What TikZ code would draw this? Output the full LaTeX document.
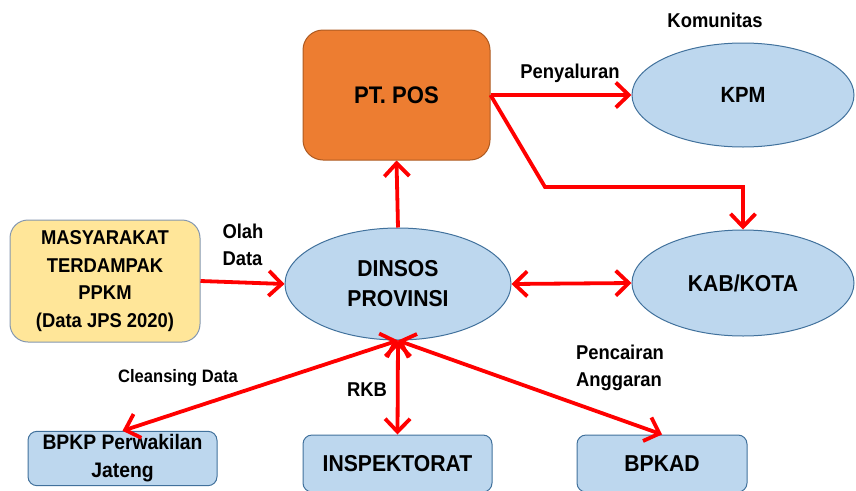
\documentclass[tikz,border=0pt]{standalone}
\usepackage{fontspec}
\setmainfont{Liberation Sans}[FakeStretch=0.92]
\usetikzlibrary{arrows.meta,shapes.geometric}
\definecolor{posorange}{HTML}{ED7D31}
\definecolor{posedge}{HTML}{AE5A21}
\definecolor{lblue}{HTML}{BDD7EE}
\definecolor{bedge}{HTML}{41719C}
\definecolor{lyellow}{HTML}{FFE699}
\definecolor{yedge}{HTML}{8497B0}
\definecolor{arred}{HTML}{FF0000}
\tikzset{
  bigtxt/.style={font=\fontsize{23}{30}\selectfont\bfseries, align=center, text=black},
  lbl/.style={font=\fontsize{20}{26.5}\selectfont\bfseries, text=black},
  orangebox/.style={draw=posedge, fill=posorange, rounded corners=20pt, line width=1pt, bigtxt},
  ellnode/.style={ellipse, draw=bedge, fill=lblue, line width=1pt, inner sep=0pt, bigtxt},
  yellowbox/.style={draw=yedge, fill=lyellow, rounded corners=18pt, line width=1pt, bigtxt, font=\fontsize{20}{27.7}\selectfont\bfseries},
  bluebox/.style={draw=bedge, fill=lblue, rounded corners=9pt, line width=1pt, bigtxt},
  barb/.tip={Straight Barb[length=13pt,width=25pt]},
  rarr/.style={draw=arred, line width=3.8pt, -barb},
  rarrtwo/.style={draw=arred, line width=3.8pt, barb-barb}
}
\begin{document}
\begin{tikzpicture}[x=1pt,y=-1pt]
\useasboundingbox (0,0) rectangle (856,490);
\node[orangebox, minimum width=187pt, minimum height=130pt, font=\fontsize{24}{30}\selectfont\bfseries] (pos) at (396.5,95) {PT. POS};
\node[ellnode, minimum width=222pt, minimum height=104pt, font=\fontsize{22}{30}\selectfont\bfseries] (kpm) at (743,95) {KPM};
\node[ellnode, minimum width=222pt, minimum height=106pt] (kab) at (743,283) {KAB/KOTA};
\node[ellnode, minimum width=226pt, minimum height=112pt] (dinsos) at (398,284) {DINSOS\\PROVINSI};
\node[yellowbox, minimum width=190pt, minimum height=122pt] (mas) at (105,281) {MASYARAKAT\\TERDAMPAK\\PPKM\\(Data JPS 2020)};
\node[bluebox, minimum width=189pt, minimum height=53pt, font=\fontsize{21}{28}\selectfont\bfseries] (bpkp) at (122.5,458.5) {BPKP Perwakilan\\Jateng};
\node[bluebox, minimum width=189pt, minimum height=57pt] (insp) at (397.5,463.5) {INSPEKTORAT};
\node[bluebox, minimum width=170pt, minimum height=57pt] (bpkad) at (662,463.5) {BPKAD};

\node[lbl] (komu) at (715,20) {Komunitas};
\node[lbl] (peny) at (570,73) {Penyaluran};
\node[lbl, align=left] (olah) at (243,245) {Olah\\Data};
\node[lbl, font=\fontsize{18}{24}\selectfont\bfseries] (clean) at (178,378) {Cleansing Data};
\node[lbl] (rkb) at (367,390) {RKB};
\node[lbl, align=left] (penc) at (620,368) {Pencairan\\Anggaran};

\coordinate (bend) at (545,187);
\draw[rarr] (pos.east) -- (kpm.west);
\draw[rarr] (pos.east) -- (bend) -| (kab.north);
\draw[rarr] (dinsos.north) -- (pos.south);
\draw[rarr] (mas.east) -- (dinsos.west);
\draw[rarrtwo] (dinsos.east) -- (kab.west);
\draw[rarrtwo] (dinsos.south) -- (bpkp.north);
\draw[rarrtwo] (dinsos.south) -- (insp.north);
\draw[rarrtwo] (dinsos.south) -- (bpkad.north);
\end{tikzpicture}
\end{document}
